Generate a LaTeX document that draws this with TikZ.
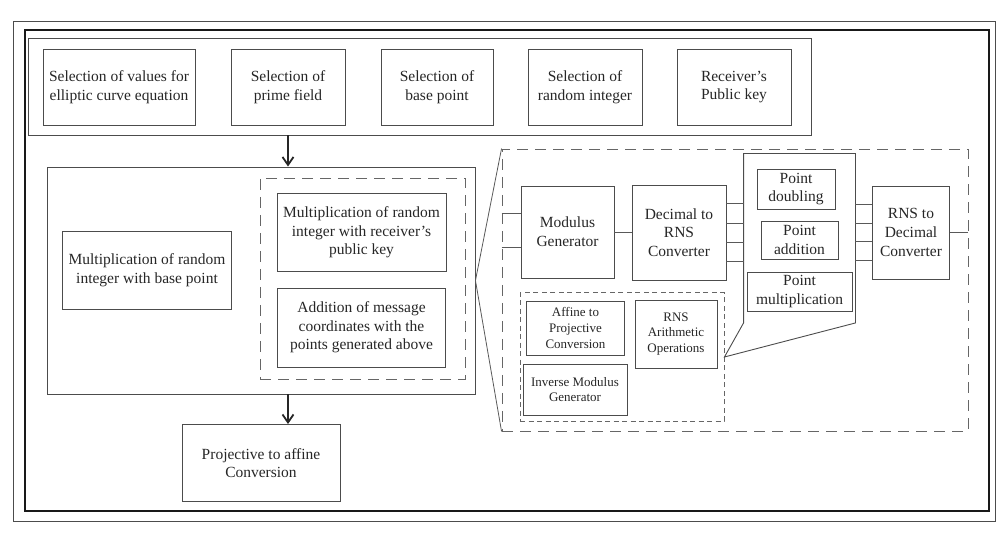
\documentclass[tikz,border=0pt]{standalone}
\usepackage{fontspec}
\setmainfont{Liberation Serif}
\usetikzlibrary{calc,arrows.meta}

\begin{document}
\begin{tikzpicture}[x=1pt,y=-1pt,line width=0.9pt,line cap=butt,line join=miter,
                    every node/.style={font=\fontsize{15.5pt}{18.6pt}\selectfont,text=black!85,align=center,inner sep=1pt},
                    blk/.style 2 args={draw=black!70,minimum width=#1,minimum height=#2},
                    sblk/.style 2 args={blk={#1}{#2},font=\fontsize{13pt}{15.6pt}\selectfont},
                    grp/.style 2 args={draw=black!70,minimum width=#1,minimum height=#2},
                    dgrp/.style 2 args={draw=black!60,dash pattern=on 11pt off 7pt,minimum width=#1,minimum height=#2},
                    sdgrp/.style 2 args={dgrp={#1}{#2},dash pattern=on 5pt off 3.5pt},
                    link/.style={draw=black!65,line width=0.8pt},
                    arr/.style={draw=black!85,line width=1.8pt,-{Straight Barb[length=8pt,width=11pt]}}]
% ---- canvas (pt = px of the source bitmap, origin top left, y down) ----
\useasboundingbox (0,0) rectangle (997,534);
% ---- outer frames ----
\draw[line width=1pt,draw=black!70] (13,22) rectangle (995.5,522);   % thin page frame
\draw[line width=2.4pt,draw=black!90] (25,30) rectangle (989,511);   % thick frame
% ---- parameter selection row ----
\node[grp={783pt}{97pt}] (top) at (419.5,86.5) {};
\node[blk={152pt}{76pt}] (sel1) at (119,87) {Selection of values for\\elliptic curve equation};
\node[blk={114pt}{76pt}] (sel2) at (288,87) {Selection of\\prime field};
\node[blk={112pt}{76pt}] (sel3) at (437,87) {Selection of\\base point};
\node[blk={114pt}{76pt}] (sel4) at (585,87) {Selection of\\random integer};
\node[blk={114pt}{76pt}] (sel5) at (734,87) {Receiver’s\\Public key};
% ---- encryption block ----
\node[grp={428pt}{227pt}] (mgrp) at (261,280.5) {};
\node[blk={169pt}{78pt}] (mbase) at (147,270.5) {Multiplication of random\\integer with base point};
\node[dgrp={205pt}{201pt}] (mdash) at (362.5,278.5) {};
\node[blk={169pt}{78pt}] (mrecv) at (361.5,232.5) {Multiplication of random\\integer with receiver’s\\public key};
\node[blk={168pt}{79pt}] (madd) at (361.5,327.5) {Addition of message\\coordinates with the\\points generated above};
\node[blk={158pt}{77pt}] (proj) at (261,463) {Projective to affine\\Conversion};
% ---- main flow arrows ----
\draw[arr] (top.south -| sel2) -- (mgrp.north -| sel2);
\draw[arr] (mgrp.south -| sel2) -- (proj.north -| sel2);
% ---- detail of the dashed block ----
\node[dgrp={466pt}{282pt}] (rbox) at (735,290) {};
\draw[link] (mgrp.east) -- (rbox.north west);
\draw[link] (mgrp.east) -- (rbox.south west);
\node[blk={93pt}{92pt}] (modg) at (567.5,232) {Modulus\\Generator};
\node[blk={94pt}{95pt}] (drc) at (679,232.5) {Decimal to\\RNS\\Converter};
\node[blk={77pt}{93pt}] (rnsd) at (911,232.5) {RNS to\\Decimal\\Converter};
% point operations (callout pointing to the arithmetic block)
\node[minimum width=111pt,minimum height=168.5pt] (pgrp) at (799.5,238.25) {};
\node[blk={78pt}{40pt}] (pdbl) at (796,189) {Point\\doubling};
\node[blk={77pt}{38pt}] (padd) at (799.5,240) {Point\\addition};
\node[blk={105pt}{39pt}] (pmul) at (799.5,291.5) {Point\\multiplication};
% arithmetic sub-block
\node[sdgrp={204pt}{128.5pt}] (sbox) at (622,357) {};
\node[sblk={98pt}{54pt}] (aff) at (575.5,328) {Affine to\\Projective\\Conversion};
\node[sblk={82pt}{68pt}] (rnsa) at (676,334) {RNS\\Arithmetic\\Operations};
\node[sblk={104pt}{51pt}] (invm) at (575,389.5) {Inverse Modulus\\Generator};
\draw[draw=black!70] (pgrp.south west) -- (pgrp.north west) -- (pgrp.north east)
      -- (pgrp.south east) -- (sbox.east) -- cycle;
% ---- links inside the detail ----
\foreach \f in {0.3,0.67}{
  \coordinate (t) at ($(modg.north west)!\f!(modg.south west)$);
  \draw[link] (t -| rbox.west) -- (t);
}
\draw[link] (modg.east) -- (modg.east -| drc.west);
\foreach \f in {0.2,0.4,0.6,0.8}{
  \coordinate (t) at ($(drc.north east)!\f!(drc.south east)$);
  \draw[link] (t) -- (t -| pgrp.west);
  \coordinate (u) at ($(rnsd.north west)!\f!(rnsd.south west)$);
  \draw[link] (u -| pgrp.east) -- (u);
}
\draw[link] (rnsd.east) -- (rnsd.east -| rbox.east);
\end{tikzpicture}
\end{document}
